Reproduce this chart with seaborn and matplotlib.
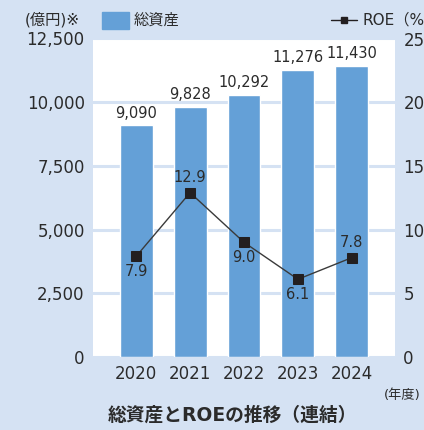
import matplotlib
matplotlib.use("Agg")
import matplotlib.pyplot as plt
import seaborn as sns
import numpy as np
import pandas as pd

years = ["2020", "2021", "2022", "2023", "2024"]
total_assets = [9090, 9828, 10292, 11276, 11430]
roe = [7.9, 12.9, 9.0, 6.1, 7.8]
left_ticks = [0, 2500, 5000, 7500, 10000, 12500]
right_ticks = [0, 5, 10, 15, 20, 25]

BG = "#d5e2f3"
BAR = "#64a0d7"
TXT = "#2b2b2b"

sns.set_theme(style="white")
plt.rcParams['font.family'] = ['DejaVu Sans', 'Noto Sans CJK JP']

W, H = 424, 430
fig = plt.figure(figsize=(W / 100, H / 100), dpi=100, facecolor=BG)
x0, x1, ytop, ybot = 93, 395, 38.5, 357
ax = fig.add_axes([x0 / W, (H - ybot) / H, (x1 - x0) / W, (ybot - ytop) / H])
ax.set_facecolor("white")

df = pd.DataFrame({"year": years, "assets": total_assets, "roe": roe})
sns.barplot(data=df, x="year", y="assets", color=BAR, width=0.61,
            saturation=1, ax=ax, zorder=2)
ax.set_xlim(-0.8, 4.8)
ax.set_ylim(0, 12500)
ax.set_yticks(left_ticks)
ax.set_yticklabels([f"{v:,}" for v in left_ticks])
ax.yaxis.grid(True, color=BG, linewidth=2.2, zorder=0)
ax.set_axisbelow(True)
for s in ax.spines.values():
    s.set_visible(False)
ax.set_xlabel("")
ax.set_ylabel("")
ax.tick_params(axis="both", length=0, labelsize=12, colors=TXT)
ax.tick_params(axis="y", pad=6)
ax.tick_params(axis="x", pad=6)

for i, v in enumerate(total_assets):
    ax.text(i, v + 180, f"{v:,}", ha="center", va="bottom", fontsize=10.5, color=TXT)

ax2 = ax.twinx()
df["pos"] = np.arange(len(years))
sns.lineplot(data=df, x="pos", y="roe", ax=ax2, color="#3a3a3a", linewidth=1,
             marker="s", markersize=7, markerfacecolor="#231f20",
             markeredgecolor="#231f20", zorder=5)
ax2.set_ylim(0, 25)
ax2.set_xlim(-0.8, 4.8)
ax2.set_yticks(right_ticks)
ax2.set_yticklabels([str(v) for v in right_ticks])
for s in ax2.spines.values():
    s.set_visible(False)
ax2.set_xlabel("")
ax2.set_ylabel("")
ax2.tick_params(axis="y", length=0, labelsize=12, colors=TXT, pad=6)

offsets = [-1, 1, -1, -1, 1]
for i, v in enumerate(roe):
    if offsets[i] > 0:
        ax2.text(i, v + 0.6, f"{v:.1f}", ha="center", va="bottom", fontsize=10.5, color=TXT)
    else:
        ax2.text(i, v - 0.6, f"{v:.1f}", ha="center", va="top", fontsize=10.5, color=TXT)

# header texts and legend
fig.text(25 / W, 1 - 20 / H, "(億円)※", ha="left", va="center", fontsize=11, color=TXT)
fig.patches.append(plt.Rectangle((102 / W, 1 - 29 / H), 27 / W, 17 / H,
                                 transform=fig.transFigure, color=BAR, figure=fig))
fig.text(134 / W, 1 - 20 / H, "総資産", ha="left", va="center", fontsize=11, color=TXT)
fig.lines.append(plt.Line2D([331 / W, 357 / W], [1 - 20 / H, 1 - 20 / H],
                            transform=fig.transFigure, color="#231f20", linewidth=1,
                            figure=fig))
fig.lines.append(plt.Line2D([344 / W], [1 - 20 / H], transform=fig.transFigure,
                            color="#231f20", marker="s", markersize=4.5, linestyle="none",
                            figure=fig))
fig.text(362 / W, 1 - 20 / H, "ROE（%", ha="left", va="center", fontsize=11, color=TXT)
fig.text(421 / W, 1 - 395 / H, "(年度)", ha="right", va="center", fontsize=9.5, color=TXT)
fig.text(0.548, 1 - 415 / H, "総資産とROEの推移（連結）", ha="center", va="center",
         fontsize=13.5, fontweight="bold", color=TXT)

fig.savefig("out.png", dpi=100, facecolor=BG)
